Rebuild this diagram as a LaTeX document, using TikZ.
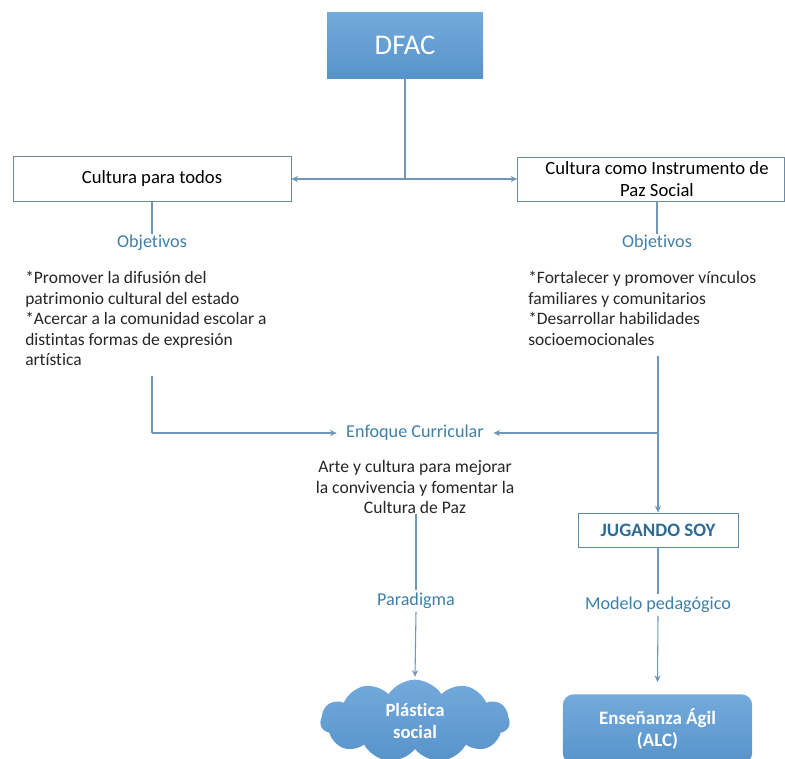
\documentclass[tikz,border=0pt]{standalone}
\usepackage{fontspec}
\setmainfont[Ligatures={NoCommon}]{Carlito}
\usetikzlibrary{arrows.meta,shapes.symbols,positioning}
\definecolor{lnc}{HTML}{7096B8}
\definecolor{lbl}{HTML}{3E7FA8}
\definecolor{bfill}{HTML}{5B9BD5}
\definecolor{bord}{HTML}{6A8AA6}
\definecolor{darkb}{HTML}{2F6A94}
\tikzset{
  conn/.style={draw=lnc, line width=0.8pt},
  arr/.style={conn, -{Stealth[length=5pt,width=4.5pt]}},
  wbox/.style={draw=bord, line width=0.6pt, fill=white, inner sep=0pt, align=center, font=\fontsize{14}{16.5}\selectfont},
  lab/.style={text=lbl, inner sep=1pt, font=\fontsize{13.6}{15}\selectfont},
  body/.style={align=left, inner sep=0pt, font=\fontsize{13.1}{15.4}\selectfont, text=black!85},
  bluebox/.style={top color=bfill!85!white, bottom color=bfill!95!black, draw=none, text=white},
}
\begin{document}
\begin{tikzpicture}[x=0.75pt,y=-0.75pt]
\useasboundingbox (0,0) rectangle (785,758);
% top
\node[bluebox, minimum width=117pt, minimum height=49pt, font=\fontsize{21.4}{24}\selectfont] (dfac) at (405,45.5) {DFAC};
\node[wbox, minimum width=208.5pt, minimum height=33.75pt] (cpt) at (152,179) {Cultura para todos};
\node[wbox, minimum width=200pt, minimum height=33pt] (cip) at (651,179) {\hspace*{9pt}Cultura como Instrumento de\\\hspace*{9pt}Paz Social};
\coordinate (j1) at (405,179);
\draw[conn] (dfac.south) -- (j1);
\draw[arr] (j1) -- (cpt.east);
\draw[arr] (j1) -- (cip.west);
% objetivos
\node[lab] (obj1) at (152,243) {Objetivos};
\node[lab] (obj2) at (657,243) {Objetivos};
\draw[conn] (cpt.south) -- (obj1.north);
\draw[conn] (cip.south -| obj2) -- (obj2.north);
\node[body, anchor=north west] (t1) at (25,271) {*Promover la difusión del\\patrimonio cultural del estado\\*Acercar a la comunidad escolar a\\distintas formas de expresión\\artística};
\node[body, anchor=north west] (t2) at (528,271) {*Fortalecer y promover vínculos\\familiares y comunitarios\\*Desarrollar habilidades\\socioemocionales};
% enfoque
\node[lab] (enf) at (415,433) {Enfoque Curricular};
\coordinate (l1) at (152,376);
\coordinate (l2) at (152,433);
\coordinate (r1) at (658,356);
\coordinate (r2) at (658,433);
\draw[conn] (l1) -- (l2);
\draw[arr] (l2) -- ([xshift=-6pt]enf.west);
\draw[conn] (r1) -- (r2);
\draw[arr] (r2) -- ([xshift=6pt]enf.east);
\node[align=center, inner sep=0pt, font=\fontsize{13.2}{15.4}\selectfont, text=black!85] (art) at (415,487) {Arte y cultura para mejorar\\la convivencia y fomentar la\\Cultura de Paz};
% jugando soy
\node[wbox, draw=darkb!80, minimum width=120pt, minimum height=25.5pt, text=darkb, font=\fontsize{14.2}{15}\selectfont\bfseries] (jug) at (658,530) {JUGANDO SOY};
\draw[arr] (r2) -- (jug.north);
\node[lab] (mod) at (658,605) {Modelo pedagógico};
\draw[conn] (jug.south) -- ([yshift=1pt]mod.north);
\node[bluebox, rounded corners=8pt, minimum width=142pt, minimum height=52pt, align=center, font=\fontsize{14.2}{16.5}\selectfont\bfseries] (ens) at (657.5,729) {Enseñanza Ágil\\(ALC)};
\draw[arr] ([yshift=-1pt]mod.south) -- ([yshift=9pt]ens.north);
% paradigma
\node[lab] (par) at (416,601) {Paradigma};
\draw[conn] (art.south -| par) -- ([yshift=1pt]par.north);
\node[cloud, cloud puffs=11, cloud puff arc=115, aspect=2.4, bluebox, minimum width=142pt, minimum height=62pt, inner sep=0pt, align=center, font=\fontsize{14}{16.5}\selectfont\bfseries] (pla) at (415,721) {Plástica\\social};
\draw[arr] ([yshift=-1pt]par.south) -- ([yshift=2pt]pla.north);
\end{tikzpicture}
\end{document}
